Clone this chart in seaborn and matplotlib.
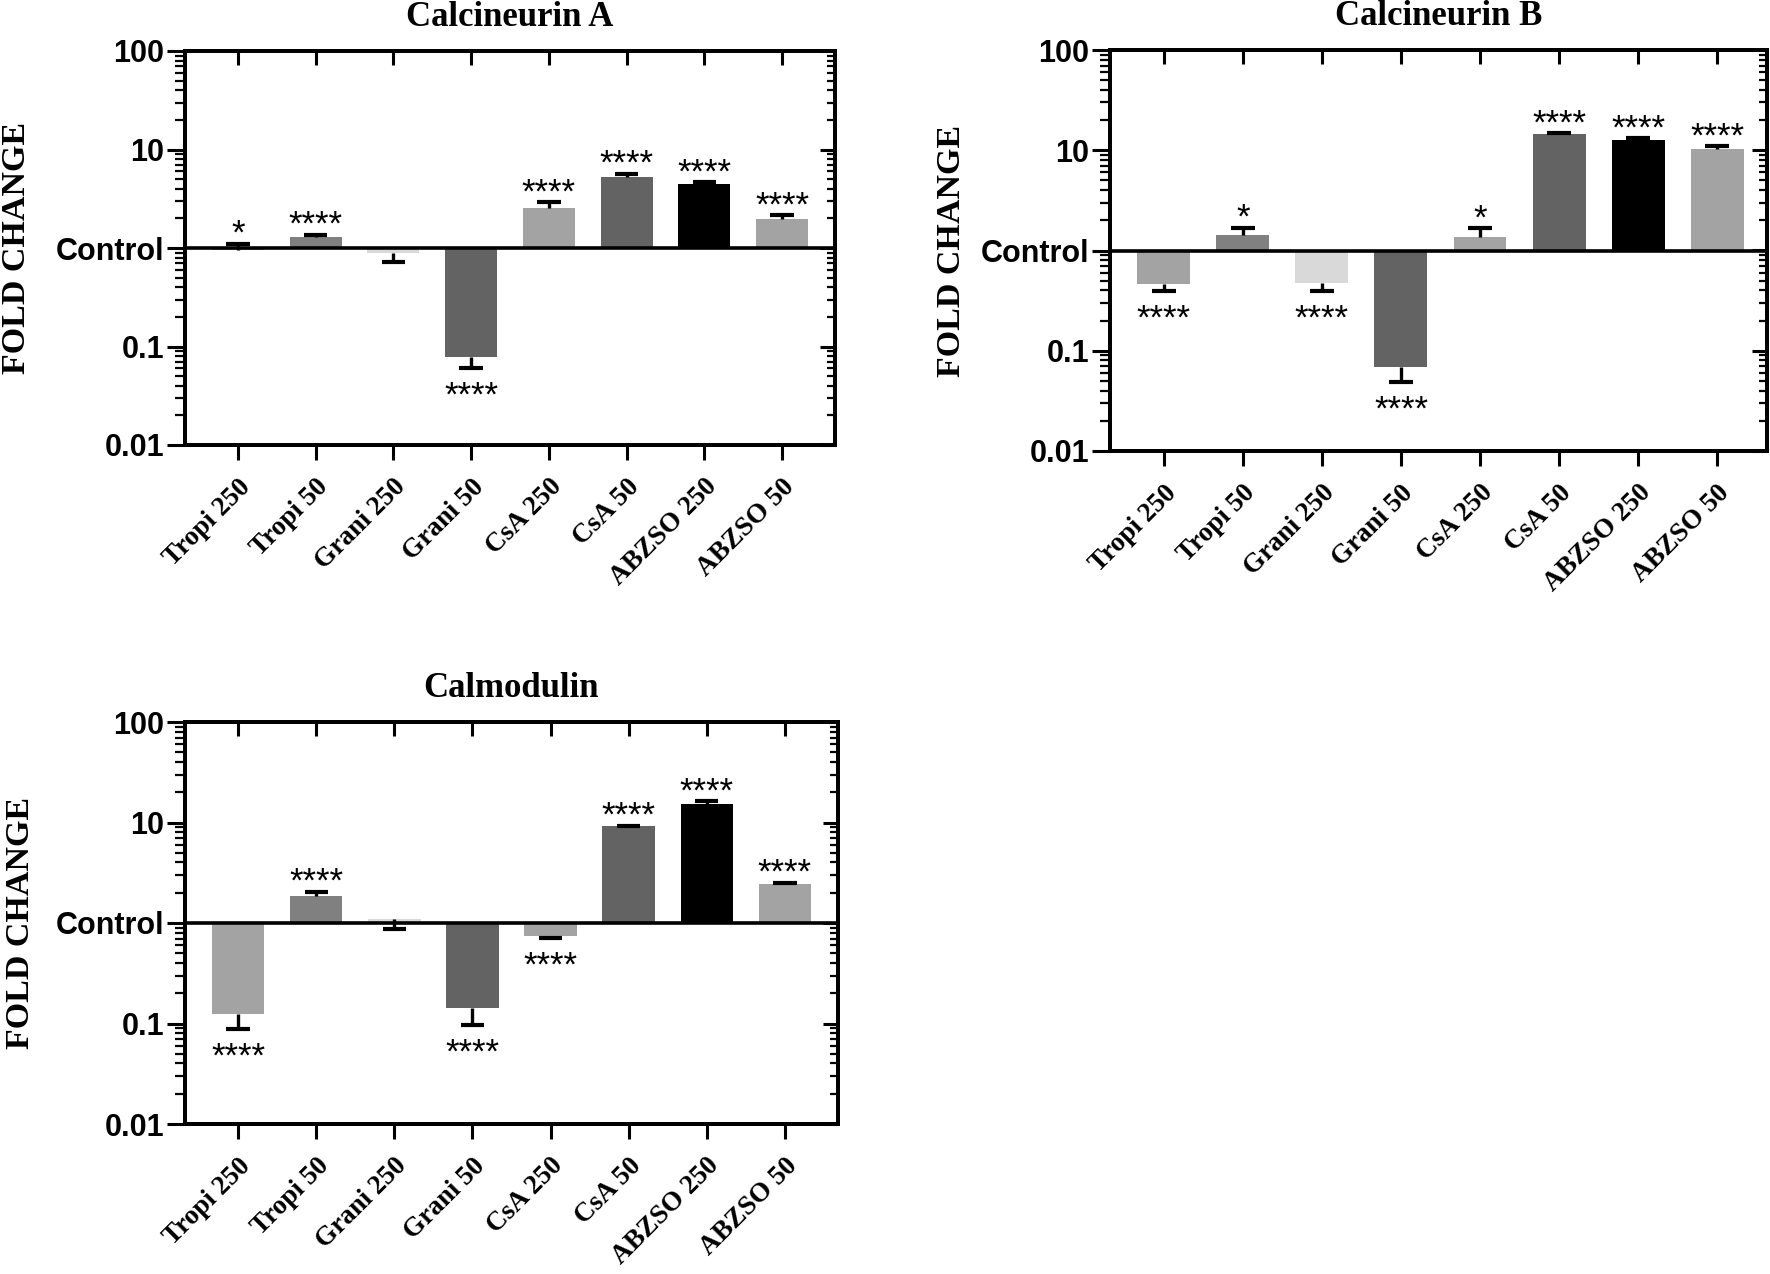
import numpy as np
import pandas as pd
import seaborn as sns
import matplotlib.pyplot as plt
from matplotlib.ticker import NullFormatter
from matplotlib.transforms import ScaledTranslation

groups = ["Tropi 250", "Tropi 50", "Grani 250", "Grani 50",
          "CsA 250", "CsA 50", "ABZSO 250", "ABZSO 50"]
bar_colors = ["#a3a3a3", "#808080", "#d9d9d9", "#636363",
              "#a3a3a3", "#636363", "#000000", "#a3a3a3"]

# Calcineurin A: bar value, error bar end, significance
cna_mean = [0.96, 1.28, 0.88, 0.078, 2.55, 5.2, 4.45, 1.95]
cna_tip = [1.11, 1.37, 0.72, 0.060, 2.92, 5.65, 4.65, 2.15]
cna_sig = ["*", "****", "", "****", "****", "****", "****", "****"]

# Calcineurin B
cnb_mean = [0.465, 1.43, 0.47, 0.069, 1.36, 14.4, 12.8, 10.3]
cnb_tip = [0.39, 1.69, 0.39, 0.049, 1.67, 14.8, 13.1, 10.9]
cnb_sig = ["****", "*", "****", "****", "*", "****", "****", "****"]

# Calmodulin
cam_mean = [0.125, 1.87, 1.1, 0.142, 0.75, 9.15, 15.3, 2.44]
cam_tip = [0.088, 2.05, 0.88, 0.096, 0.715, 9.3, 16.2, 2.52]
cam_sig = ["****", "****", "", "****", "****", "****", "****", "****"]

yticks = [0.01, 0.1, 1, 10, 100]
ytick_labels = ["0.01", "0.1", "Control", "10", "100"]

sns.set_style("ticks", rc={"axes.edgecolor": "black", "xtick.color": "black",
                           "ytick.color": "black", "text.color": "black",
                           "axes.labelcolor": "black"})
plt.rcParams["font.family"] = ["Liberation Sans", "DejaVu Sans"]

SERIF = "Liberation Serif"
LW = 2.6

fig = plt.figure(figsize=(17.7, 12.74), dpi=100)


def draw_panel(rect, title, means, tips, sig, label_x, xmax):
    ax = fig.add_axes(rect)
    df = pd.DataFrame({"group": groups, "shift": np.array(means) - 1})
    sns.barplot(data=df, x="group", y="shift", hue="group", order=groups,
                hue_order=groups, palette=bar_colors, bottom=1, width=0.67,
                errorbar=None, legend=False, linewidth=0, ax=ax)
    ax.set_yscale("log")
    ax.set_ylim(0.01, 100)
    ax.set_xlim(-0.68, xmax)

    x = np.arange(len(groups))
    ax.vlines(x, means, tips, color="black", lw=2.4, zorder=3)
    ax.hlines(tips, x - 0.15, x + 0.15, color="black", lw=3.0, zorder=3)
    ax.axhline(1, color="black", lw=LW, zorder=4)

    for i, s in enumerate(sig):
        if not s:
            continue
        if tips[i] >= means[i]:
            off = 0
        else:
            off = -27
        ax.annotate(s, (i, tips[i]), xytext=(0, off), textcoords="offset points",
                    ha="center", va="baseline", fontsize=25,
                    family="Liberation Sans")

    ax.set_yticks(yticks, labels=ytick_labels)
    ax.yaxis.set_minor_formatter(NullFormatter())
    for lab in ax.get_yticklabels():
        lab.set_fontweight("bold")
        lab.set_fontsize(22)
    ax.tick_params(axis="y", which="major", direction="out", length=13,
                   width=2.2, pad=2)
    ax.tick_params(axis="y", which="minor", direction="out", length=7,
                   width=1.6)
    ax.set_xticks(x)
    ax.set_xticklabels(groups, rotation=45, ha="right",
                       rotation_mode="anchor", family=SERIF,
                       fontweight="bold", fontsize=19.5)
    # nudge the rotated labels so their ends sit under the ticks
    shift = ScaledTranslation(-0.08, 0, fig.dpi_scale_trans)
    for lab in ax.get_xticklabels():
        lab.set_transform(lab.get_transform() + shift)
    ax.tick_params(axis="x", which="major", direction="out", length=11,
                   width=2.2, pad=10)
    ax.set_xlabel("")
    ax.set_ylabel("FOLD CHANGE", family=SERIF, fontweight="bold", fontsize=24.5)
    ax.yaxis.set_label_coords(label_x, 0.5)
    ax.set_title(title, family=SERIF, fontweight="bold", fontsize=25,
                 y=1.0, pad=18)

    right = ax.twinx()
    right.set_yscale("log")
    right.set_ylim(0.01, 100)
    right.set_yticks(yticks)
    right.yaxis.set_minor_formatter(NullFormatter())
    right.tick_params(axis="y", which="major", direction="in", length=11,
                      width=2.2, labelright=False)
    right.tick_params(axis="y", which="minor", direction="in", length=6,
                      width=1.6)
    top = ax.twiny()
    top.set_xlim(ax.get_xlim())
    top.set_xticks(x)
    top.tick_params(axis="x", direction="in", length=10, width=2.2,
                    labeltop=False)

    for a in (ax, right, top):
        for sp in a.spines.values():
            sp.set_linewidth(LW)
            sp.set_visible(True)
    return ax


W, H = 1770, 1274
draw_panel([185 / W, 1 - 445 / H, 650 / W, 394 / H], "Calcineurin A",
           cna_mean, cna_tip, cna_sig, -0.235, 7.68)
draw_panel([1110 / W, 1 - 451 / H, 657 / W, 401 / H], "Calcineurin B",
           cnb_mean, cnb_tip, cnb_sig, -0.218, 7.63)
draw_panel([185 / W, 1 - 1124 / H, 653 / W, 402 / H], "Calmodulin",
           cam_mean, cam_tip, cam_sig, -0.228, 7.68)

fig.savefig("out.png", dpi=100)
